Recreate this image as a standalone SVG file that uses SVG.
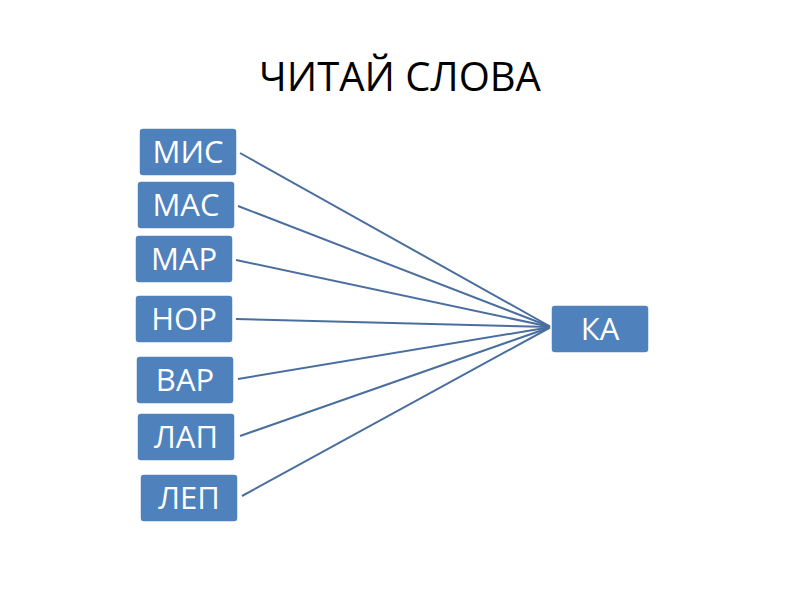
<svg xmlns="http://www.w3.org/2000/svg" width="800" height="600" viewBox="0 0 800 600">
<style>
.b{fill:#4f81bd;stroke:#fff;stroke-width:1.5}
.t{font-family:"Open Sans","Liberation Sans",sans-serif;font-size:31px;fill:#fff;text-anchor:middle}
.c line{stroke:#4a6f9f;stroke-width:2}
</style>
<rect width="800" height="600" fill="#fff"/>
<text x="400" y="91" font-family="Open Sans,Liberation Sans,sans-serif" font-size="40" text-anchor="middle" fill="#000">ЧИТАЙ СЛОВА</text>
<g class="c">
<line x1="240" y1="153" x2="551" y2="327"/>
<line x1="238" y1="206" x2="551" y2="327"/>
<line x1="236" y1="260" x2="551" y2="327"/>
<line x1="236" y1="319" x2="551" y2="327"/>
<line x1="238" y1="379" x2="551" y2="327"/>
<line x1="240" y1="436" x2="551" y2="327"/>
<line x1="242" y1="496" x2="551" y2="327"/>
</g>
<g id="n1"><rect class="b" x="139" y="128" width="98" height="48" rx="4"/><text class="t" x="188" y="163">МИС</text></g>
<g id="n2"><rect class="b" x="137" y="181" width="98" height="48" rx="4"/><text class="t" x="186" y="216">МАС</text></g>
<g id="n3"><rect class="b" x="135" y="235" width="98" height="48" rx="4"/><text class="t" x="184" y="270">МАР</text></g>
<g id="n4"><rect class="b" x="135" y="295" width="98" height="48" rx="4"/><text class="t" x="184" y="330">НОР</text></g>
<g id="n5"><rect class="b" x="136" y="356" width="98" height="48" rx="4"/><text class="t" x="185" y="391">ВАР</text></g>
<g id="n6"><rect class="b" x="137" y="413" width="98" height="48" rx="4"/><text class="t" x="186" y="448">ЛАП</text></g>
<g id="n7"><rect class="b" x="140" y="474" width="98" height="48" rx="4"/><text class="t" x="189" y="509">ЛЕП</text></g>
<g id="ka"><rect class="b" x="551" y="305" width="98" height="48" rx="4"/><text class="t" x="600" y="340">КА</text></g>
</svg>
